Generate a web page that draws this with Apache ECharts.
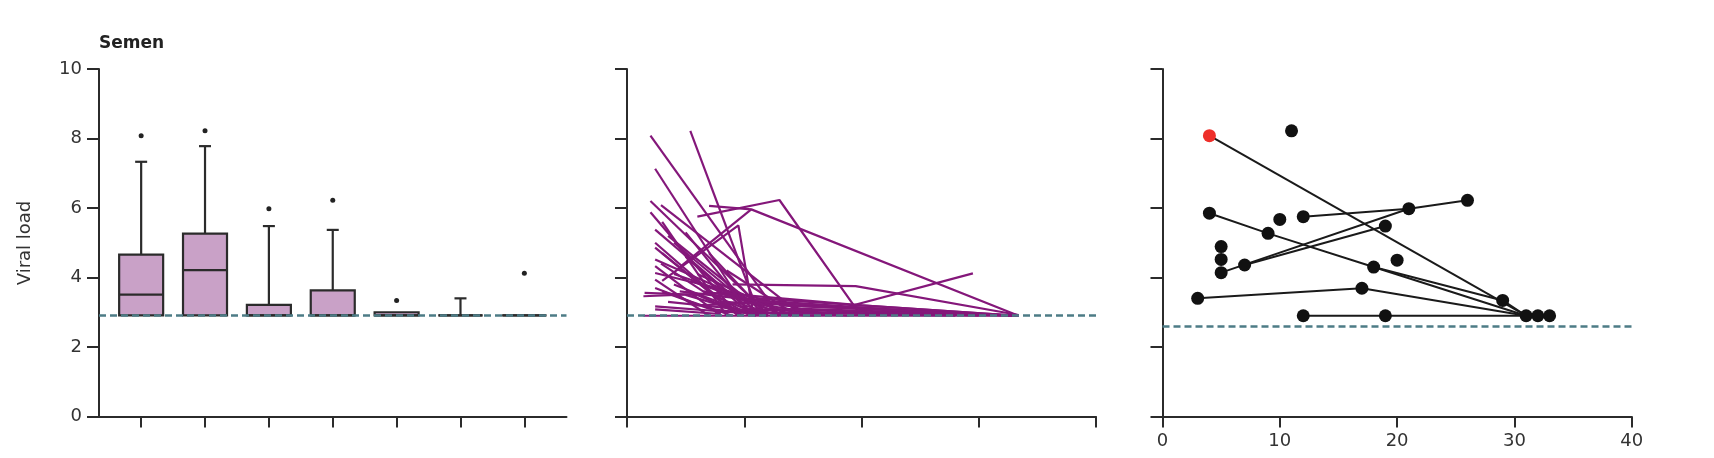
<!DOCTYPE html>
<html><head><meta charset="utf-8">
<script src="https://cdn.jsdelivr.net/npm/echarts@6/dist/echarts.min.js"></script>
<style>html,body{margin:0;padding:0;background:#fff}#c{width:1714px;height:458px}</style>
</head><body><div id="c"></div>
<script>
// ---------- Panel 1: box plots ----------
const groups = [1, 2, 3, 4, 5, 6, 7];
const boxMin = [2.91, 2.91, 2.91, 2.91, 2.91, 2.91, 2.91];
const boxQ1 = [2.91, 2.91, 2.91, 2.91, 2.91, 2.91, 2.91];
const boxMedian = [3.51, 4.21, 2.91, 2.91, 2.91, 2.91, 2.91];
const boxQ3 = [4.66, 5.26, 3.21, 3.63, 3.00, 2.91, 2.91];
const boxMax = [7.33, 7.78, 5.48, 5.37, 3.00, 3.40, 2.91];
const outliers = [[1, 8.08], [2, 8.22], [3, 5.98], [4, 6.22], [5, 3.34], [7, 4.12]];
const limitPanel1 = 2.9;

// ---------- Panel 2: individual trajectories [day, viral load] ----------
const semenTrajectories = [
  [[2.0, 8.08], [13.0, 2.9]],
  [[5.4, 8.22], [11.3, 2.9]],
  [[2.4, 7.13], [10.5, 2.9]],
  [[2.0, 6.2], [12.0, 2.95]],
  [[2.9, 6.08], [15.0, 2.9]],
  [[2.0, 5.88], [9.5, 2.9]],
  [[7.0, 6.06], [10.6, 5.96], [33.4, 2.9]],
  [[6.0, 5.75], [13.0, 6.23], [19.9, 2.93]],
  [[3.0, 3.9], [9.5, 5.5], [10.8, 2.9]],
  [[4.5, 4.3], [10.6, 5.96]],
  [[2.4, 5.38], [11.0, 2.9]],
  [[2.4, 4.86], [9.5, 2.9]],
  [[2.4, 4.52], [13.0, 2.95]],
  [[2.4, 4.33], [8.0, 2.9]],
  [[2.4, 4.13], [16.0, 3.0], [33.4, 2.9]],
  [[2.4, 3.94], [7.0, 2.9]],
  [[1.4, 3.46], [8.0, 3.55], [20.0, 3.2], [33.4, 2.9]],
  [[1.5, 3.56], [6.0, 3.5], [10.0, 2.9]],
  [[2.4, 3.17], [9.0, 3.0], [18.0, 2.95]],
  [[2.4, 3.08], [8.0, 2.95]],
  [[1.4, 2.9], [33.4, 2.9]],
  [[3.0, 5.6], [8.5, 2.9]],
  [[3.5, 5.2], [12.0, 2.9]],
  [[4.0, 5.0], [11.5, 2.9]],
  [[3.0, 4.7], [9.5, 2.9]],
  [[5.0, 4.6], [10.0, 3.1], [20.0, 2.95]],
  [[4.0, 3.8], [10.0, 3.0], [16.0, 2.9]],
  [[5.5, 3.9], [12.0, 3.1], [30.0, 2.9]],
  [[6.0, 4.1], [14.0, 2.9]],
  [[5.0, 3.5], [11.0, 2.9]],
  [[3.5, 3.3], [12.0, 3.0], [28.0, 2.9]],
  [[6.5, 3.6], [14.0, 3.2], [33.0, 2.9]],
  [[7.0, 4.7], [12.0, 2.9]],
  [[8.0, 3.3], [18.0, 3.15], [33.4, 2.9]],
  [[9.0, 3.8], [19.5, 3.75], [33.4, 2.92]],
  [[10.0, 3.3], [16.5, 2.95]],
  [[16.5, 2.95], [29.5, 4.12]],
  [[6.0, 3.2], [13.0, 3.3], [26.0, 3.0]],
  [[4.5, 3.6], [12.0, 3.3], [24.0, 3.05], [33.0, 2.9]],
  [[7.5, 3.0], [15.0, 3.1], [33.2, 2.9]],
  [[3.0, 3.6], [7.0, 3.1], [12.0, 2.9]],
  [[2.4, 3.7], [5.5, 3.3], [9.0, 2.9]],
  [[8.5, 4.2], [14.5, 2.9]],
  [[11.0, 3.4], [33.4, 2.9]],
  [[13.0, 3.2], [33.3, 2.9]],
  [[4.0, 4.1], [13.5, 3.0], [19.0, 2.9]],
  [[2.4, 5.0], [7.5, 3.5], [10.5, 2.9]],
  [[2.9, 4.4], [6.5, 3.6], [11.5, 2.9]],
  [[5.0, 5.3], [10.0, 3.2], [13.0, 2.9]]
];
const limitPanel2 = 2.9;

// ---------- Panel 3: paired samples [day, viral load] ----------
const pairedLines = [
  [[4, 8.08], [31, 2.9]],
  [[4, 5.85], [9, 5.27], [18, 4.3], [31, 2.9]],
  [[18, 4.3], [29, 3.34], [31, 2.9]],
  [[3, 3.4], [17, 3.69], [31, 2.9]],
  [[12, 2.9], [19, 2.9], [31, 2.9], [32, 2.9], [33, 2.9]],
  [[12, 5.75], [21, 5.98], [26, 6.22]],
  [[5, 4.14], [21, 5.98]],
  [[7, 4.36], [19, 5.48]]
];
const blackPoints = [[11, 8.22], [26, 6.22], [21, 5.98], [4, 5.85], [10, 5.67], [12, 5.75], [19, 5.48],
  [9, 5.27], [5, 4.89], [5, 4.52], [5, 4.14], [7, 4.36], [20, 4.5], [18, 4.3], [17, 3.69], [3, 3.4],
  [29, 3.34], [12, 2.9], [19, 2.9], [31, 2.9], [32, 2.9], [33, 2.9]];
const redPoints = [[4, 8.08]];
const limitPanel3 = 2.6;
const dayTicks = [0, 10, 20, 30, 40];

// ---------- styles ----------
const AX = '#2b2b2b';
const PURPLE = '#84177a';
const DASH = '#4d7c86';
const FONT = 'DejaVu Sans';

function yAx(gi, showLabel) {
  return {
    type: 'value', gridIndex: gi, min: 0, max: 10, interval: 2,
    axisLine: { show: true, onZero: false, lineStyle: { color: AX, width: 2 } },
    axisTick: { show: true, inside: false, length: 12, lineStyle: { color: AX, width: 2 } },
    axisLabel: { show: showLabel, margin: 17, fontSize: 18, color: '#333', fontFamily: FONT },
    splitLine: { show: false }
  };
}
function dayAx(gi, showLabel) {
  return {
    type: 'value', gridIndex: gi, min: dayTicks[0], max: dayTicks[dayTicks.length - 1], interval: 10,
    axisLine: { show: true, onZero: false, lineStyle: { color: AX, width: 2 } },
    axisTick: { show: true, length: 11, lineStyle: { color: AX, width: 2 } },
    axisLabel: { show: showLabel, margin: 16, fontSize: 18, color: '#333', fontFamily: FONT },
    splitLine: { show: false }
  };
}
function limitLine(xi, yi, v) {
  return {
    type: 'line', xAxisIndex: xi, yAxisIndex: yi, data: [], z: 1, silent: true,
    markLine: {
      silent: true, symbol: 'none', label: { show: false },
      lineStyle: { color: DASH, width: 2.5, type: [7, 4] },
      data: [{ yAxis: v }]
    }
  };
}

const series = [];
series.push(limitLine(0, 0, limitPanel1));
series.push({
  type: 'custom', xAxisIndex: 0, yAxisIndex: 0, z: 3,
  data: groups.map((g, i) => [g, boxMin[i], boxQ1[i], boxMedian[i], boxQ3[i], boxMax[i]]),
  encode: { x: 0, y: [1, 2, 3, 4, 5] },
  renderItem: function (params, api) {
    const x = api.value(0);
    const p = k => api.coord([x, api.value(k)]);
    const lo = p(1), q1 = p(2), md = p(3), q3 = p(4), hi = p(5);
    const cx = lo[0], hw = 22, cw = 6;
    const ls = { stroke: '#2b2b2b', lineWidth: 2.2 };
    const ch = [];
    if (hi[1] < q3[1] - 0.5) {
      ch.push({ type: 'line', shape: { x1: cx, y1: q3[1], x2: cx, y2: hi[1] }, style: ls });
      ch.push({ type: 'line', shape: { x1: cx - cw, y1: hi[1], x2: cx + cw, y2: hi[1] }, style: ls });
    }
    if (lo[1] > q1[1] + 0.5) {
      ch.push({ type: 'line', shape: { x1: cx, y1: q1[1], x2: cx, y2: lo[1] }, style: ls });
      ch.push({ type: 'line', shape: { x1: cx - cw, y1: lo[1], x2: cx + cw, y2: lo[1] }, style: ls });
    }
    ch.push({ type: 'rect', shape: { x: cx - hw, y: q3[1], width: 2 * hw, height: q1[1] - q3[1] },
      style: { fill: '#c9a1c7', stroke: '#2b2b2b', lineWidth: 2.2 } });
    ch.push({ type: 'line', shape: { x1: cx - hw, y1: md[1], x2: cx + hw, y2: md[1] }, style: ls });
    return { type: 'group', children: ch };
  }
});
series.push({
  type: 'scatter', xAxisIndex: 0, yAxisIndex: 0, z: 4, data: outliers,
  symbolSize: 5, itemStyle: { color: '#222', opacity: 1 }
});

series.push(limitLine(1, 1, limitPanel2));
semenTrajectories.forEach(t => series.push({
  type: 'line', xAxisIndex: 1, yAxisIndex: 1, data: t, symbol: 'none', z: 3,
  lineStyle: { color: PURPLE, width: 2.2 }, silent: true
}));

series.push(limitLine(2, 2, limitPanel3));
pairedLines.forEach(t => series.push({
  type: 'line', xAxisIndex: 2, yAxisIndex: 2, data: t, symbol: 'none', z: 3,
  lineStyle: { color: '#1a1a1a', width: 2 }, silent: true
}));
series.push({ type: 'scatter', xAxisIndex: 2, yAxisIndex: 2, data: blackPoints, symbolSize: 13, z: 4,
  itemStyle: { color: '#111', opacity: 1 } });
series.push({ type: 'scatter', xAxisIndex: 2, yAxisIndex: 2, data: redPoints, symbolSize: 13, z: 5,
  itemStyle: { color: '#ee2f2a', opacity: 1 } });

const chart = echarts.init(document.getElementById('c'), null, { renderer: 'canvas' });
chart.setOption({
  animation: false,
  backgroundColor: '#fff',
  textStyle: { fontFamily: FONT },
  grid: [
    { left: 99, top: 69, width: 467.5, height: 347.5 },
    { left: 627, top: 69, width: 469, height: 347.5 },
    { left: 1162.5, top: 69, width: 469.2, height: 347.5 }
  ],
  xAxis: [
    {
      type: 'value', gridIndex: 0, min: 0.34, max: 7.66,
      axisLine: { show: true, onZero: false, lineStyle: { color: AX, width: 2 } },
      axisTick: { show: true, length: 11, customValues: groups, lineStyle: { color: AX, width: 2 } },
      axisLabel: { show: false }, splitLine: { show: false }
    },
    dayAx(1, false),
    dayAx(2, true)
  ],
  yAxis: [yAx(0, true), yAx(1, false), yAx(2, false)],
  graphic: [
    { type: 'text', x: 99, y: 44, style: { text: 'Semen', fontFamily: FONT, fontWeight: 'bold', fontSize: 17,
      fill: '#222', textAlign: 'left', textVerticalAlign: 'middle' } },
    { type: 'text', x: 25, y: 243, rotation: Math.PI / 2, style: { text: 'Viral load', fontFamily: FONT, fontSize: 18,
      fill: '#333', textAlign: 'center', textVerticalAlign: 'middle' } }
  ],
  series: series
});
</script></body></html>
